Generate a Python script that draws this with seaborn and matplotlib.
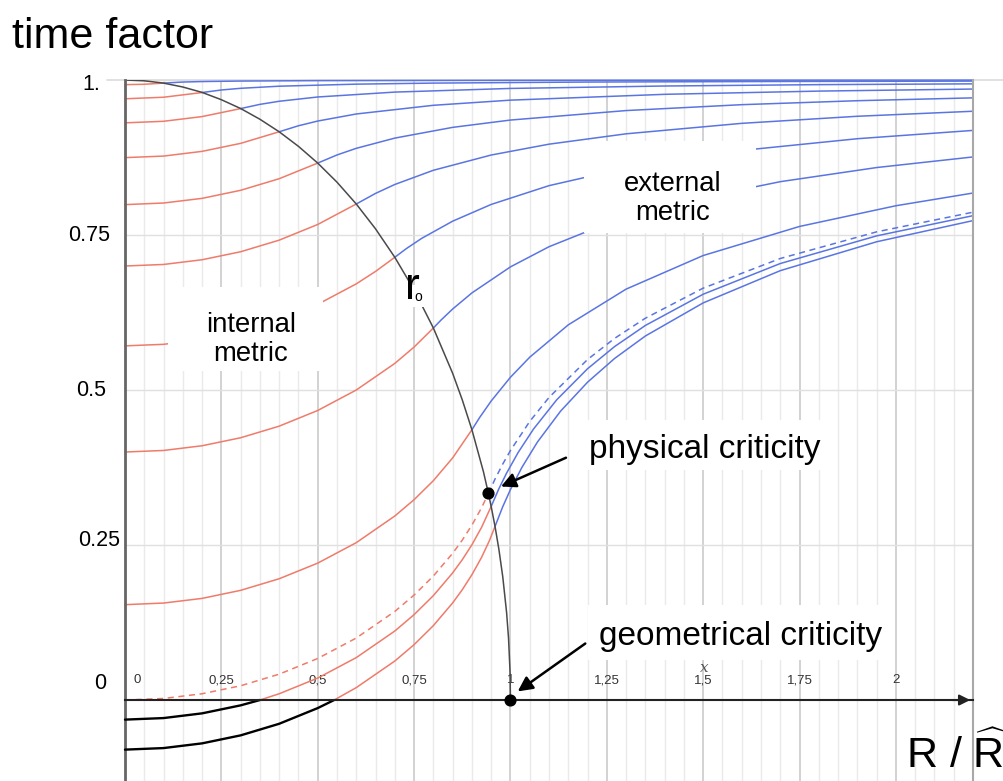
import numpy as np
import matplotlib
matplotlib.use('Agg')
import matplotlib.pyplot as plt
import matplotlib.transforms as mtransforms
from matplotlib.patches import Rectangle
import seaborn as sns

# star radius r0 / R^ of each curve (the 4th from the end is the dashed critical one)
r0_values = [0.1, 0.2, 0.3, 0.4, 0.5, 0.6, 0.7, 0.8, 0.9, 0.9428, 0.95, 0.96]

# internal metric (red part, black where it is below zero)
in_x_1 = [0, 0.05, 0.1]
in_y_1 = [0.9925, 0.9931, 0.995]
in_x_2 = [0, 0.1, 0.2]
in_y_2 = [0.9697, 0.9722, 0.9798]
in_x_3 = [0, 0.1, 0.2, 0.3]
in_y_3 = [0.9309, 0.9334, 0.941, 0.9539]
in_x_4 = [0, 0.1, 0.2, 0.3, 0.4]
in_y_4 = [0.8748, 0.8773, 0.8849, 0.8978, 0.9165]
in_x_5 = [0, 0.1, 0.2, 0.3, 0.4, 0.5]
in_y_5 = [0.799, 0.8016, 0.8091, 0.8221, 0.8408, 0.866]
in_x_6 = [0, 0.1, 0.2, 0.3, 0.4, 0.5, 0.6]
in_y_6 = [0.7, 0.7025, 0.7101, 0.723, 0.7417, 0.767, 0.8]
in_x_7 = [0, 0.1, 0.2, 0.3, 0.4, 0.5, 0.6, 0.65, 0.7]
in_y_7 = [0.5712, 0.5737, 0.5813, 0.5942, 0.613, 0.6382, 0.6712, 0.6913, 0.7141]
in_x_8 = [0, 0.1, 0.2, 0.3, 0.4, 0.5, 0.6, 0.7, 0.75, 0.8]
in_y_8 = [0.4, 0.4025, 0.4101, 0.423, 0.4417, 0.467, 0.5, 0.5429, 0.5693, 0.6]
in_x_9 = [0, 0.1, 0.2, 0.3, 0.4, 0.5, 0.6, 0.7, 0.75, 0.8, 0.85, 0.9]
in_y_9 = [0.1538, 0.1564, 0.1639, 0.1769, 0.1956, 0.2208, 0.2538, 0.2968, 0.3231,
          0.3538, 0.3905, 0.4359]
in_x_10 = [0, 0.1, 0.2, 0.3, 0.4, 0.5, 0.6, 0.7, 0.75, 0.8, 0.85, 0.875, 0.9, 0.925, 0.9428]
in_y_10 = [0, 0.0025, 0.0101, 0.023, 0.0417, 0.067, 0.1, 0.1429, 0.1693, 0.2, 0.2366,
           0.2579, 0.2821, 0.31, 0.3333]
in_x_11 = [0, 0.1, 0.2, 0.3, 0.35, 0.4, 0.5, 0.6, 0.7, 0.75, 0.8, 0.85, 0.875, 0.9, 0.925, 0.95]
in_y_11 = [-0.0316, -0.0291, -0.0215, -0.0086, 0, 0.0101, 0.0354, 0.0684, 0.1113, 0.1377,
           0.1684, 0.205, 0.2263, 0.2504, 0.2784, 0.3123]
in_x_12 = [0, 0.1, 0.2, 0.3, 0.4, 0.5, 0.5426, 0.6, 0.7, 0.75, 0.8, 0.85, 0.875, 0.9, 0.925,
           0.945, 0.96]
in_y_12 = [-0.08, -0.0775, -0.0699, -0.057, -0.0383, -0.013, 0, 0.02, 0.0629, 0.0893, 0.12,
           0.1566, 0.1779, 0.2021, 0.23, 0.2565, 0.28]

# external metric (blue part)
ex_x_1 = [0.1, 0.15, 0.2, 0.3, 0.5, 1.0, 1.6, 2.2]
ex_y_1 = [0.995, 0.9967, 0.9975, 0.9983, 0.999, 0.9995, 0.9997, 0.9998]
ex_x_2 = [0.2, 0.25, 0.3, 0.4, 0.6, 0.8, 1.2, 1.7, 2.2]
ex_y_2 = [0.9798, 0.9839, 0.9866, 0.99, 0.9933, 0.995, 0.9967, 0.9976, 0.9982]
ex_x_3 = [0.3, 0.35, 0.4, 0.5, 0.7, 1.0, 1.4, 1.8, 2.2]
ex_y_3 = [0.9539, 0.9607, 0.9657, 0.9726, 0.9805, 0.9864, 0.9903, 0.9925, 0.9938]
ex_x_4 = [0.4, 0.45, 0.5, 0.6, 0.8, 1.0, 1.4, 1.8, 2.2]
ex_y_4 = [0.9165, 0.9262, 0.9338, 0.9452, 0.9592, 0.9675, 0.9769, 0.9821, 0.9854]
ex_x_5 = [0.5, 0.55, 0.6, 0.7, 0.85, 1.0, 1.3, 1.6, 1.9, 2.2]
ex_y_5 = [0.866, 0.8791, 0.8898, 0.9063, 0.9236, 0.9354, 0.9507, 0.9602, 0.9666, 0.9712]
ex_x_6 = [0.6, 0.65, 0.7, 0.8, 0.95, 1.1, 1.3, 1.6, 1.9, 2.2]
ex_y_6 = [0.8, 0.8171, 0.8315, 0.8544, 0.879, 0.8965, 0.9132, 0.9301, 0.9415, 0.9496]
ex_x_7 = [0.7, 0.73, 0.77, 0.85, 0.95, 1.1, 1.3, 1.6, 1.9, 2.2]
ex_y_7 = [0.7141, 0.7281, 0.7447, 0.7723, 0.7993, 0.8296, 0.858, 0.8864, 0.9053, 0.9187]
ex_x_8 = [0.8, 0.82, 0.85, 0.9, 1.0, 1.1, 1.25, 1.45, 1.7, 1.95, 2.2]
ex_y_8 = [0.6, 0.6129, 0.6306, 0.6566, 0.6986, 0.7311, 0.7684, 0.8043, 0.836, 0.8588, 0.8759]
ex_x_9 = [0.9, 0.92, 0.95, 1.0, 1.05, 1.15, 1.3, 1.5, 1.75, 2.0, 2.2]
ex_y_9 = [0.4359, 0.4556, 0.4823, 0.5206, 0.5529, 0.6051, 0.6627, 0.7169, 0.7638, 0.7972,
          0.8177]
ex_x_10 = [0.9428, 0.96, 0.98, 1.0, 1.05, 1.1, 1.2, 1.27, 1.35, 1.5, 1.7, 1.95, 2.2]
ex_y_10 = [0.3333, 0.3564, 0.3806, 0.4024, 0.4493, 0.488, 0.5492, 0.5832, 0.6158, 0.6643,
           0.7121, 0.7551, 0.7868]
ex_x_11 = [0.95, 0.97, 0.99, 1.02, 1.06, 1.12, 1.2, 1.27, 1.35, 1.5, 1.7, 1.95, 2.2]
ex_y_11 = [0.3123, 0.3408, 0.366, 0.3993, 0.4372, 0.4842, 0.5343, 0.57, 0.6041, 0.6545,
           0.704, 0.7486, 0.7812]
ex_x_12 = [0.96, 0.98, 1.0, 1.03, 1.07, 1.13, 1.2, 1.27, 1.35, 1.5, 1.7, 1.95, 2.2]
ex_y_12 = [0.28, 0.3118, 0.3395, 0.3755, 0.4161, 0.4659, 0.5126, 0.5508, 0.5871, 0.6405,
           0.6925, 0.7391, 0.7732]

# r0 curve (surface of the star)
r0_x = [0, 0.05, 0.1, 0.15, 0.2, 0.25, 0.3, 0.35, 0.4, 0.45, 0.5, 0.55, 0.6, 0.65, 0.7,
        0.75, 0.8, 0.85, 0.875, 0.9, 0.93, 0.9428, 0.95, 0.96, 0.97, 0.98, 0.99, 0.995,
        0.999, 1.0]
r0_y = [1, 0.9987, 0.995, 0.9887, 0.98, 0.9682, 0.954, 0.9367, 0.9165, 0.893, 0.866,
        0.8352, 0.8, 0.7599, 0.714, 0.6614, 0.6, 0.527, 0.4841, 0.436, 0.368, 0.3333,
        0.312, 0.28, 0.243, 0.199, 0.141, 0.1, 0.045, 0.0]

# critical points
crit_x = [0.9428, 1.0]
crit_y = [0.3333, 0.0]

# axis labels
x_major = [0, 0.25, 0.5, 0.75, 1, 1.25, 1.5, 1.75, 2]
x_major_labels = ['0', '0,25', '0,5', '0,75', '1', '1,25', '1,5', '1,75', '2']
y_ticks = [0.25, 0.5, 0.75, 1.0]

RED = '#ef7b6a'
BLUE = '#5a75e2'

sns.set_theme(style='white')
plt.rcParams['font.family'] = ['Liberation Sans', 'DejaVu Sans']
plt.rcParams['text.color'] = 'black'
plt.rcParams['mathtext.fontset'] = 'custom'
plt.rcParams['mathtext.rm'] = 'Liberation Sans'

fig = plt.figure(figsize=(10.04, 7.81), dpi=100)
ax = fig.add_axes([125 / 1004, 0, 848 / 1004, 701 / 781])
ax.set_xlim(0, 2.2)
ax.set_ylim(-0.1306, 1.0)

# grid
ax.set_xticks(x_major)
ax.set_xticks(np.arange(0.05, 2.2, 0.05), minor=True)
ax.set_yticks(y_ticks)
ax.grid(which='minor', axis='x', color='#eaeaea', lw=1.0)
ax.grid(which='major', axis='x', color='#c6c6c6', lw=1.1)
ax.grid(which='major', axis='y', color='#e0e0e0', lw=1.0)
ax.set_axisbelow(True)

# spines: bottom spine is the R/R^ axis at y=0
ax.spines['top'].set_visible(False)
ax.spines['left'].set_color('#666666')
ax.spines['left'].set_linewidth(2)
ax.spines['right'].set_color('#a8a8a8')
ax.spines['right'].set_linewidth(1.5)
ax.spines['bottom'].set_position(('data', 0))
ax.spines['bottom'].set_color('#222222')
ax.spines['bottom'].set_linewidth(1.5)
ax.spines['bottom'].set_zorder(4)

ax.tick_params(axis='x', which='major', direction='inout', length=11, width=1.3,
               color='#222222', pad=-24, labelsize=9.5, labelcolor='#333333')
ax.tick_params(axis='x', which='minor', direction='inout', length=6, width=1.0,
               color='#222222')
ax.set_xticklabels(x_major_labels)
zero_lab = ax.get_xticklabels()[0]
zero_lab.set_transform(zero_lab.get_transform() +
                       mtransforms.ScaledTranslation(12 / 100, 0, fig.dpi_scale_trans))
ax.tick_params(axis='y', direction='in', length=10, width=1.2, color='#555555')
ax.set_yticklabels([])
ax.set_xlabel('')
ax.set_ylabel('')

# arrow head of the x axis
ax.annotate('', xy=(2.2, 0), xytext=(2.14, 0),
            arrowprops=dict(arrowstyle='-|>', color='#222222', lw=1.5, mutation_scale=16),
            annotation_clip=False, zorder=4)

# top line at 1
ax.plot([-0.047, 2.28], [1, 1], color='#dcdcdc', lw=1.2, clip_on=False, zorder=1)

curves = [
    (in_x_1, in_y_1, ex_x_1, ex_y_1), (in_x_2, in_y_2, ex_x_2, ex_y_2),
    (in_x_3, in_y_3, ex_x_3, ex_y_3), (in_x_4, in_y_4, ex_x_4, ex_y_4),
    (in_x_5, in_y_5, ex_x_5, ex_y_5), (in_x_6, in_y_6, ex_x_6, ex_y_6),
    (in_x_7, in_y_7, ex_x_7, ex_y_7), (in_x_8, in_y_8, ex_x_8, ex_y_8),
    (in_x_9, in_y_9, ex_x_9, ex_y_9), (in_x_10, in_y_10, ex_x_10, ex_y_10),
    (in_x_11, in_y_11, ex_x_11, ex_y_11), (in_x_12, in_y_12, ex_x_12, ex_y_12),
]

for r0, (ix, iy, ex, ey) in zip(r0_values, curves):
    ls = (0, (4, 3)) if r0 == 0.9428 else '-'
    ix = np.array(ix)
    iy = np.array(iy)
    below = iy <= 0
    above = iy >= 0
    if below.sum() > 1:
        sns.lineplot(x=ix[below], y=iy[below], ax=ax, color='black', lw=1.7,
                     sort=False, estimator=None, clip_on=False, zorder=3)
    sns.lineplot(x=ix[above], y=iy[above], ax=ax, color=RED, lw=1.1, linestyle=ls,
                 sort=False, estimator=None, clip_on=False, zorder=2)
    sns.lineplot(x=ex, y=ey, ax=ax, color=BLUE, lw=1.1, linestyle=ls,
                 sort=False, estimator=None, clip_on=False, zorder=2)

sns.lineplot(x=r0_x, y=r0_y, ax=ax, color='#4a4a4a', lw=1.1, sort=False,
             estimator=None, zorder=2.5)
ax.scatter(crit_x, crit_y, s=60, color='black', zorder=6, clip_on=False)

# white label backgrounds
for (bx, by, bw, bh) in [(1.19, 0.7528, 0.4464, 0.1487), (0.1117, 0.5299, 0.4026, 0.1357),
                         (0.714, 0.6333, 0.078, 0.0364), (1.156, 0.3716, 0.675, 0.0807),
                         (1.20, 0.0646, 0.785, 0.0889)]:
    ax.add_patch(Rectangle((bx, by), bw, bh, facecolor='white', edgecolor='none', zorder=5))

ax.text(1.421, 0.809, 'external\nmetric', ha='center', va='center', fontsize=19.8,
        linespacing=1.15, zorder=6)
ax.text(0.327, 0.582, 'internal\nmetric', ha='center', va='center', fontsize=19.8,
        linespacing=1.15, zorder=6)
ax.text(1.504, 0.404, 'physical criticity', ha='center', va='center', fontsize=24,
        zorder=6)
ax.text(1.597, 0.102, 'geometrical criticity', ha='center', va='center', fontsize=24,
        zorder=6)
ax.text(0.727, 0.646, 'r', ha='left', va='baseline', fontsize=32, zorder=6)
ax.text(0.751, 0.643, 'o', ha='left', va='baseline', fontsize=10, zorder=6)
ax.text(1.504, 0.0517, 'x', ha='center', va='center', fontsize=11, color='#555555',
        family='DejaVu Serif', style='italic', zorder=6)

ax.annotate('', xy=(0.9688, 0.3425), xytext=(1.1506, 0.3926),
            arrowprops=dict(arrowstyle='-|>', color='black', lw=1.8, mutation_scale=22),
            zorder=7)
ax.annotate('', xy=(1.013, 0.0113), xytext=(1.2, 0.0937),
            arrowprops=dict(arrowstyle='-|>', color='black', lw=1.8, mutation_scale=22),
            zorder=7)

# y labels
for lx, ly, lab in [(-0.065, 0.992, '1.'), (-0.039, 0.7484, '0.75'), (-0.049, 0.5, '0.5'),
                    (-0.013, 0.258, '0.25'), (-0.049, 0.0274, '0')]:
    ax.text(lx, ly, lab, ha='right', va='center', fontsize=15.5, clip_on=False)

fig.text(12 / 1004, 1 - 48 / 781, 'time factor', ha='left', va='baseline', fontsize=31)
fig.text(906 / 1004, 1 - 768 / 781, r'R / $\widehat{\mathrm{R}}$', ha='left',
         va='baseline', fontsize=31)

fig.savefig('out.png', dpi=100)
